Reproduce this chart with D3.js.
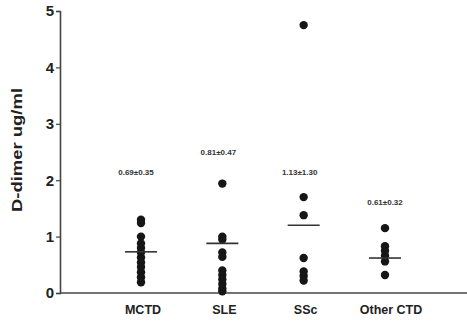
<!DOCTYPE html>
<html>
<head>
<meta charset="utf-8">
<script src="https://cdn.jsdelivr.net/npm/d3@7"></script>
<style>
 body { margin: 0; background: #fff; }
 svg { display: block; font-family: "Liberation Sans", Arial, sans-serif; }
</style>
</head>
<body>
<svg id="chart" width="467" height="329"></svg>
<script>
// groups along the x axis
const categories = ["MCTD", "SLE", "SSc", "Other CTD"];
// individual D-dimer values per group (ug/ml)
const mctd = [1.30, 1.24, 1.00, 0.88, 0.80, 0.72, 0.63, 0.54, 0.46, 0.37, 0.28, 0.19];
const sle = [1.94, 1.00, 0.95, 0.72, 0.64, 0.40, 0.32, 0.24, 0.16, 0.08, 0.03];
const ssc = [4.75, 1.70, 1.38, 0.62, 0.38, 0.30, 0.22];
const other = [1.15, 0.83, 0.75, 0.66, 0.56, 0.32];
const values = [mctd, sle, ssc, other];
// horizontal mean bars as drawn
const means = [0.73, 0.88, 1.20, 0.62];
// mean±SD annotations
const labels = ["0.69±0.35", "0.81±0.47", "1.13±1.30", "0.61±0.32"];
const labelY = [2.15, 2.50, 2.15, 1.61];
const yTicks = [0, 1, 2, 3, 4, 5];

const svg = d3.select("#chart");
const ink = "#222";

const x = d3.scalePoint().domain(categories).range([141, 385]);
const y = d3.scaleLinear().domain([0, 5]).range([293, 11]);

// y axis
const yAxis = svg.append("g")
  .attr("transform", "translate(60,0)")
  .call(d3.axisLeft(y).tickValues(yTicks).tickSize(4).tickFormat(d3.format("d")));
yAxis.select(".domain").attr("stroke", "#444").attr("stroke-width", 1.6);
yAxis.selectAll(".tick line").attr("stroke", "#444").attr("stroke-width", 1.2);
yAxis.selectAll(".tick text")
  .attr("fill", ink).attr("font-size", 15).attr("font-weight", "bold").attr("x", -6);

// x axis baseline
svg.append("line")
  .attr("x1", 60).attr("x2", 467)
  .attr("y1", y(0)).attr("y2", y(0))
  .attr("stroke", "#444").attr("stroke-width", 1.6);

// category labels
svg.selectAll(".cat")
  .data(categories)
  .join("text")
  .attr("class", "cat")
  .attr("x", (d, i) => x(d) + (i === 3 ? 6 : 2))
  .attr("y", 314)
  .attr("text-anchor", "middle")
  .attr("font-size", 12.5)
  .attr("font-weight", "bold")
  .attr("fill", ink)
  .text(d => d);

// y axis title
svg.append("text")
  .attr("transform", "translate(22,150) rotate(-90)")
  .attr("text-anchor", "middle")
  .attr("font-size", 15)
  .attr("font-weight", "bold")
  .attr("fill", ink)
  .attr("textLength", 124)
  .attr("lengthAdjust", "spacingAndGlyphs")
  .text("D-dimer ug/ml");

// dots
const groups = svg.selectAll(".grp")
  .data(categories)
  .join("g")
  .attr("class", "grp");

groups.selectAll("circle")
  .data((d, i) => values[i].map(v => ({ cat: d, v })))
  .join("circle")
  .attr("cx", d => x(d.cat))
  .attr("cy", d => y(d.v))
  .attr("r", 4.2)
  .attr("fill", "#161616");

// mean bars
svg.selectAll(".mean")
  .data(categories)
  .join("line")
  .attr("class", "mean")
  .attr("x1", d => x(d) - 16)
  .attr("x2", d => x(d) + 16)
  .attr("y1", (d, i) => y(means[i]))
  .attr("y2", (d, i) => y(means[i]))
  .attr("stroke", "#333")
  .attr("stroke-width", 1.6);

// mean±SD text
svg.selectAll(".ann")
  .data(categories)
  .join("text")
  .attr("class", "ann")
  .attr("x", (d, i) => x(d) - (i === 0 ? 5 : i === 3 ? 0 : 4))
  .attr("y", (d, i) => y(labelY[i]) + 3)
  .attr("text-anchor", "middle")
  .attr("font-size", 8)
  .attr("font-weight", "bold")
  .attr("fill", "#333")
  .text((d, i) => labels[i]);
</script>
</body>
</html>
